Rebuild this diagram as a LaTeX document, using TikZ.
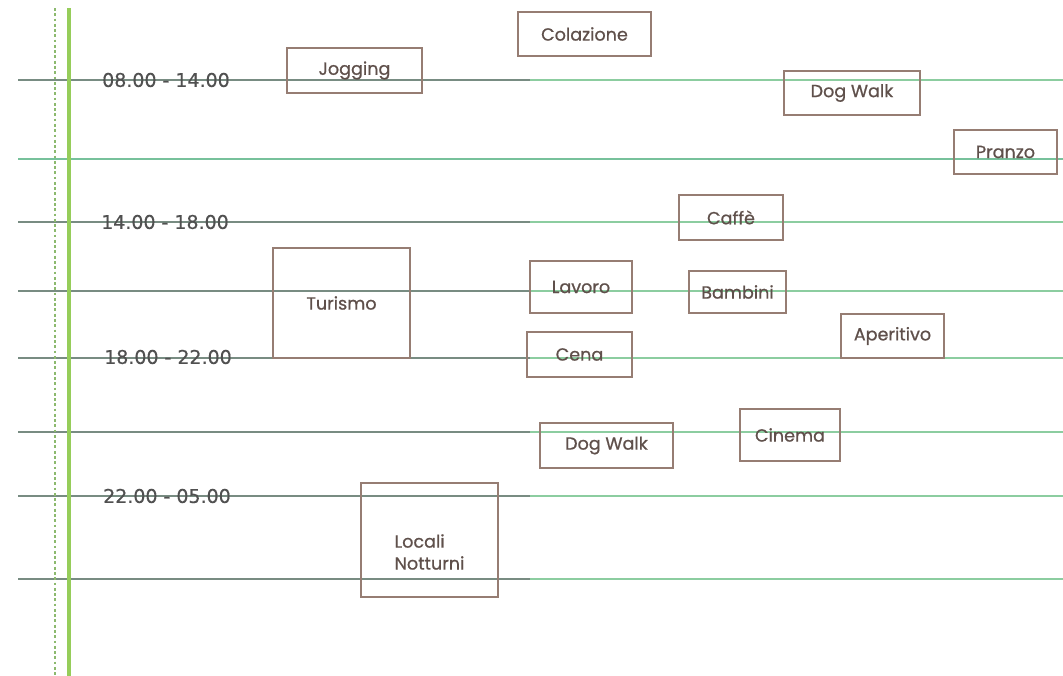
\documentclass[tikz,border=0pt]{standalone}
\usepackage{fontspec}
\newfontfamily\boxfont[FakeBold=0.8]{Poppins}
\newfontfamily\labfont[FakeBold=0.5]{DejaVu Sans}
\usetikzlibrary{positioning}
\definecolor{boxbrown}{RGB}{150,125,115}
\definecolor{boxtext}{RGB}{95,80,75}
\definecolor{rowgrey}{RGB}{120,140,130}
\definecolor{rowgreen}{RGB}{140,205,160}
\definecolor{axisgreen}{RGB}{150,205,90}
\definecolor{dotgreen}{RGB}{140,185,110}
\definecolor{labgrey}{RGB}{80,80,80}
\begin{document}
\begin{tikzpicture}[x=0.02cm,y=-0.02cm,
    boxlabel/.style={inner sep=0pt,font=\boxfont\fontsize{10}{12.5}\selectfont,text=boxtext},
    box/.style 2 args={boxlabel,draw=boxbrown,line width=1.1pt,minimum width=#1*0.02cm,minimum height=#2*0.02cm},
    timelab/.style={font=\labfont\fontsize{10.8}{13}\selectfont,text=labgrey,inner sep=0pt},
    rowline/.style={line width=0.6pt}]
    \useasboundingbox (0,0) rectangle (1063,676);
    % righe orarie
    \foreach \y in {80,222,291,358,432,496,579}{
        \draw[rowline,rowgrey] (18,\y) -- (530,\y);
        \draw[rowline,rowgreen] (530,\y) -- (1063,\y);
    }
    \draw[line width=1.6pt,rowgreen!85!teal] (18,159) -- (1063,159);
    % asse
    \draw[dotgreen,dash pattern=on 1.6pt off 1.4pt,line width=0.9pt] (55,8) -- (55,676);
    \draw[axisgreen,line width=2.8pt] (69,8) -- (69,676);
    % fasce orarie
    \node[timelab] (t1) at (166,80) {08.00 - 14.00};
    \node[timelab] (t2) at (165,222) {14.00 - 18.00};
    \node[timelab] (t3) at (168,357) {18.00 - 22.00};
    \node[timelab] (t4) at (167,496) {22.00 - 05.00};
    % attivita
    \node[box={135}{45}] (jogging) at (354.5,70.5) {Jogging};
    \node[box={133}{44}] (colazione) at (584.5,34) {Colazione};
    \node[box={136}{44}] (dogwalk1) at (852,93) {Dog Walk};
    \node[box={103}{44}] (pranzo) at (1005.5,152) {Pranzo};
    \node[box={104}{45}] (caffe) at (731,217.5) {Caffè};
    \node[box={137}{110}] (turismo) at (341.5,303) {Turismo};
    \node[box={102}{52}] (lavoro) at (581,287) {Lavoro};
    \node[box={97}{42}] (bambini) at (737.5,292) {Bambini};
    \node[box={103}{44}] (aperitivo) at (892.5,336) {Aperitivo};
    \node[box={105}{45}] (cena) at (579.5,354.5) {Cena};
    \node[box={133}{45}] (dogwalk2) at (606.5,445.5) {Dog Walk};
    \node[box={100}{52}] (cinema) at (790,435) {Cinema};
    \node[box={137}{114}] (locali) at (429.5,540) {};
    \node[boxlabel,align=left] (localitxt) at ([yshift=-0.24cm]locali.center) {Locali\\Notturni};
\end{tikzpicture}
\end{document}
